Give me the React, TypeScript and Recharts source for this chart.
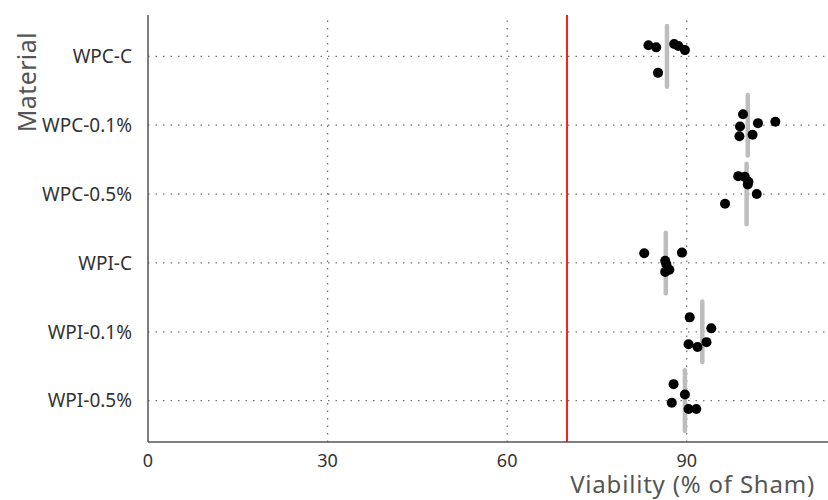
import {
  ScatterChart, Scatter, XAxis, YAxis, ReferenceLine, Label,
} from 'recharts';

const materials = ['WPC-C', 'WPC-0.1%', 'WPC-0.5%', 'WPI-C', 'WPI-0.1%', 'WPI-0.5%'];

// viability of each replicate, per material
const wpcC = [83.6, 84.9, 87.9, 88.6, 89.7, 85.2];
const wpc01 = [99.4, 98.9, 98.8, 101.0, 101.9, 104.8];
const wpc05 = [98.6, 99.7, 100.3, 100.2, 101.7, 96.4];
const wpiC = [82.9, 89.2, 86.4, 87.1, 86.4, 86.6];
const wpi01 = [90.5, 94.1, 93.3, 91.8, 90.3];
const wpi05 = [87.8, 89.7, 87.5, 90.3, 91.6];

// vertical jitter of each point (category units)
const jitC = [-0.16, -0.13, -0.18, -0.15, -0.09, 0.24];
const jit01 = [-0.16, 0.02, 0.16, 0.14, -0.03, -0.05];
const jit05 = [-0.26, -0.25, -0.18, -0.14, 0.0, 0.14];
const jitIC = [-0.14, -0.15, -0.03, 0.1, 0.13, 0.02];
const jitI01 = [-0.21, -0.05, 0.15, 0.22, 0.18];
const jitI05 = [-0.24, -0.09, 0.03, 0.12, 0.12];

const means = [86.7, 100.2, 100.0, 86.5, 92.6, 89.7];
const threshold = 70;
const xTicks = [0, 30, 60, 90];
const yTicks = [1, 2, 3, 4, 5, 6];

const groups = [
  [wpcC, jitC], [wpc01, jit01], [wpc05, jit05],
  [wpiC, jitIC], [wpi01, jitI01], [wpi05, jitI05],
];

const points = groups.flatMap(([vals, jit], i) =>
  vals.map((v, k) => ({ x: v, y: i + 1 + jit[k] })),
);

const FONT = '"Noto Sans", sans-serif';
const HALF = 0.44;
const grid = { stroke: '#777', strokeWidth: 1.3, strokeDasharray: '1.5 6' };

export default function App() {
  return (
    <div style={{ position: 'absolute', left: 0, top: 0, background: '#fff' }}>
      <ScatterChart width={828} height={500} margin={{ top: 15, right: 0, bottom: 0, left: 0 }}>
        <XAxis
          type="number"
          dataKey="x"
          domain={[0, 113.6]}
          ticks={xTicks}
          allowDataOverflow
          height={58}
          tickLine={false}
          axisLine={{ stroke: '#555', strokeWidth: 1.5 }}
          tick={{ fill: '#333', fontSize: 18, fontFamily: FONT }}
          tickMargin={6}
        >
          <Label
            content={({ viewBox }: any) => (
              <text
                x={viewBox.x + viewBox.width - 13}
                y={viewBox.y + viewBox.height - 7}
                textAnchor="end"
                fill="#555"
                fontSize={24}
                letterSpacing={0.8}
                fontFamily={FONT}
              >
                Viability (% of Sham)
              </text>
            )}
          />
        </XAxis>
        <YAxis
          type="number"
          dataKey="y"
          domain={[0.4, 6.6]}
          ticks={yTicks}
          reversed
          width={148}
          tickLine={false}
          axisLine={{ stroke: '#555', strokeWidth: 1.5 }}
          tickFormatter={(v: number) => materials[v - 1]}
          tick={{ fill: '#333', fontSize: 19, fontFamily: FONT }}
          tickMargin={10}
        >
          <Label
            content={() => (
              <text
                x={36}
                y={32}
                transform="rotate(-90 36 32)"
                textAnchor="end"
                fill="#555"
                fontSize={25}
                letterSpacing={0.4}
                fontFamily={FONT}
              >
                Material
              </text>
            )}
          />
        </YAxis>
        {yTicks.map((t) => <ReferenceLine key={`h${t}`} y={t} {...grid} />)}
        {xTicks.slice(1).map((t) => <ReferenceLine key={`v${t}`} x={t} {...grid} />)}
        <ReferenceLine x={threshold} stroke="#f0261e" strokeWidth={2} />
        <Scatter
          data={points}
          isAnimationActive={false}
          shape={(p: any) => <circle cx={p.cx} cy={p.cy} r={5} fill="#000" />}
        />
        {means.map((m, i) => (
          <ReferenceLine
            key={materials[i]}
            segment={[{ x: m, y: i + 1 - HALF }, { x: m, y: i + 1 + HALF }]}
            stroke="#bdbdbd"
            strokeWidth={4.5}
            strokeLinecap="round"
          />
        ))}
      </ScatterChart>
    </div>
  );
}
